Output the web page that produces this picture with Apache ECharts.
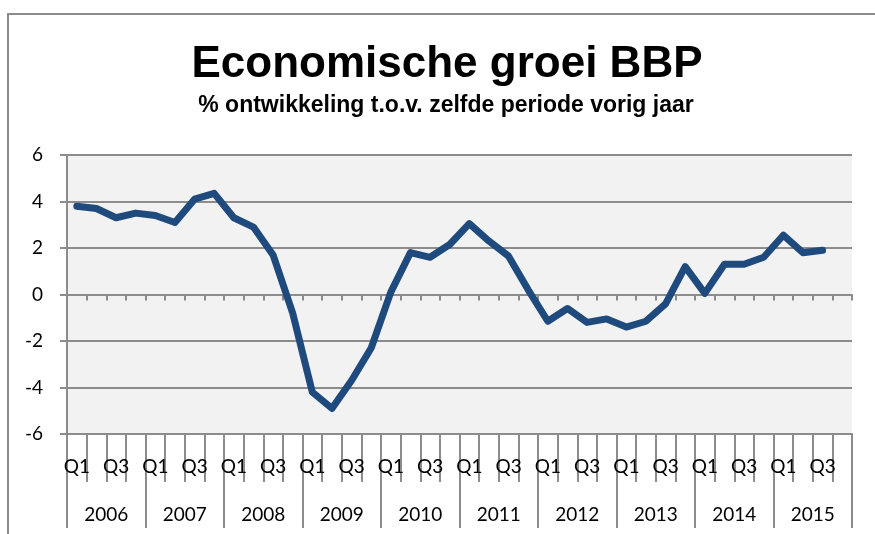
<!DOCTYPE html>
<html>
<head>
<meta charset="utf-8">
<script src="https://cdn.jsdelivr.net/npm/echarts@6/dist/echarts.min.js"></script>
<style>
  html, body { margin: 0; padding: 0; background: #fff; }
  #chart { width: 875px; height: 534px; }
</style>
</head>
<body>
<div id="chart"></div>
<script>
  // data
  const years = ['2006', '2007', '2008', '2009', '2010', '2011', '2012', '2013', '2014', '2015']
  const quarterNames = ['Q1', 'Q2', 'Q3', 'Q4']
  const yTicks = [-6, -4, -2, 0, 2, 4, 6]
  // BBP groei per kwartaal, 2006 Q1 t/m 2015 Q3
  const growth = [
    3.8, 3.7, 3.3, 3.5,
    3.4, 3.1, 4.1, 4.35,
    3.3, 2.9, 1.7, -0.8,
    -4.2, -4.9, -3.7, -2.3,
    0.1, 1.8, 1.6, 2.15,
    3.05, 2.3, 1.65, 0.2,
    -1.15, -0.6, -1.2, -1.05,
    -1.4, -1.15, -0.4, 1.2,
    0.05, 1.3, 1.3, 1.6,
    2.55, 1.8, 1.9
  ]

  const quarters = []
  years.forEach(() => quarterNames.forEach(q => quarters.push(q)))
  const lineData = quarters.map((q, i) => (i < growth.length ? growth[i] : null))

  const gray = '#8c8c8c'
  const labelFont = 'Lato'

  const chart = echarts.init(document.getElementById('chart'))
  chart.setOption({
    animation: false,
    backgroundColor: '#fff',
    title: [
      {
        text: 'Economische groei BBP',
        left: 447,
        top: 43,
        textAlign: 'center',
        padding: 0,
        textStyle: { fontFamily: 'Liberation Sans', fontSize: 44, fontWeight: 'bold', color: '#000' }
      },
      {
        text: '% ontwikkeling t.o.v. zelfde periode vorig jaar',
        left: 446,
        top: 94,
        textAlign: 'center',
        padding: 0,
        textStyle: { fontFamily: 'Liberation Sans', fontSize: 23, fontWeight: 'bold', color: '#000' }
      }
    ],
    graphic: [
      {
        type: 'rect',
        shape: { x: 8, y: 14, width: 1000, height: 1000 },
        style: { fill: 'none', stroke: gray, lineWidth: 2 },
        silent: true
      }
    ],
    grid: {
      left: 67,
      right: 23,
      top: 155,
      bottom: 100,
      show: true,
      backgroundColor: '#f2f2f2',
      borderWidth: 0
    },
    xAxis: [
      {
        // kwartalen
        type: 'category',
        data: quarters,
        position: 'bottom',
        boundaryGap: true,
        axisLine: { show: true, onZero: false, lineStyle: { color: gray, width: 2 } },
        axisTick: { show: true, interval: 0, alignWithLabel: false, length: 48, lineStyle: { color: gray, width: 2 } },
        axisLabel: { interval: 1, margin: 23, fontFamily: labelFont, fontSize: 19, color: '#000' },
        splitLine: { show: false }
      },
      {
        // tick marks on the zero line
        type: 'category',
        data: quarters,
        position: 'bottom',
        boundaryGap: true,
        axisLine: { show: true, onZero: true, lineStyle: { color: gray, width: 2 } },
        axisTick: { show: true, interval: 0, alignWithLabel: false, length: 6, lineStyle: { color: gray, width: 2 } },
        axisLabel: { show: false },
        splitLine: { show: false }
      },
      {
        // jaren
        type: 'category',
        data: years,
        position: 'bottom',
        offset: 48,
        boundaryGap: true,
        axisLine: { show: false, onZero: false },
        axisTick: { show: true, interval: 0, alignWithLabel: false, length: 46, lineStyle: { color: gray, width: 2 } },
        axisLabel: { interval: 0, margin: 23, fontFamily: labelFont, fontSize: 19, color: '#000' },
        splitLine: { show: false }
      }
    ],
    yAxis: {
      type: 'value',
      min: yTicks[0],
      max: yTicks[yTicks.length - 1],
      interval: 2,
      axisLine: { show: true, onZero: false, lineStyle: { color: gray, width: 2 } },
      axisTick: { show: true, length: 7, lineStyle: { color: gray, width: 2 } },
      axisLabel: { margin: 24, fontFamily: labelFont, fontSize: 19, color: '#000' },
      splitLine: { show: true, lineStyle: { color: gray, width: 2 } }
    },
    series: [
      {
        type: 'line',
        xAxisIndex: 0,
        yAxisIndex: 0,
        data: lineData,
        showSymbol: false,
        symbol: 'none',
        lineStyle: { color: '#1f4a7d', width: 7, cap: 'round', join: 'round' }
      }
    ]
  })
</script>
</body>
</html>
